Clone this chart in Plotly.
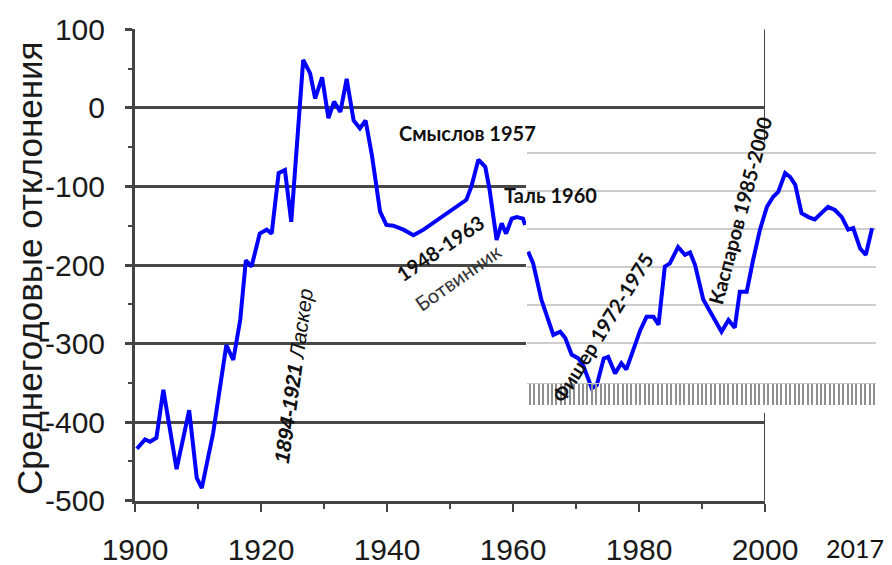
import plotly.graph_objects as go

# ---------------- data ----------------
left_years = [1900.3, 1901.6, 1902.4, 1903.4, 1904.5, 1906.6, 1908.6, 1909.8, 1910.6, 1912.4,
              1914.5, 1915.6, 1916.7, 1917.6, 1918.5, 1919.8, 1920.9, 1921.7, 1922.8, 1923.8,
              1924.8, 1926.7, 1927.8, 1928.6, 1929.7, 1930.7, 1931.6, 1932.6, 1933.6, 1934.7,
              1935.7, 1936.6, 1937.6, 1938.9, 1939.9, 1941.0, 1942.6, 1944.2, 1945.8, 1947.9,
              1950.5, 1952.6, 1953.4, 1954.5, 1955.6, 1956.3, 1957.4, 1958.2, 1958.9, 1959.8,
              1960.6, 1961.6, 1961.9]
left_values = [-434, -422, -425, -420, -359, -460, -385, -471, -484, -414,
               -302, -321, -270, -194, -202, -160, -155, -160, -83, -79,
               -145, 61, 44, 12, 39, -13, 8, -5, 37, -16,
               -26, -16, -60, -132, -149, -150, -155, -162, -155, -143,
               -128, -117, -100, -66, -75, -105, -168, -147, -160, -141,
               -139, -141, -149]

right_years = [1962.4, 1963.2, 1964.5, 1966.4, 1967.5, 1968.3, 1969.3, 1970.4, 1971.2, 1972.5,
               1973.3, 1974.4, 1975.1, 1976.2, 1977.2, 1978.0, 1980.2, 1981.2, 1982.3, 1983.1,
               1984.1, 1984.9, 1986.2, 1987.3, 1988.1, 1988.9, 1990.2, 1991.8, 1993.1, 1994.2,
               1995.2, 1996.0, 1997.1, 1998.1, 1999.2, 2000.3, 2001.3, 2002.1, 2003.2, 2004.0,
               2004.8, 2005.8, 2006.9, 2007.9, 2009.0, 2010.0, 2011.1, 2012.2, 2013.2, 2014.0,
               2015.1, 2016.0, 2017.0]
right_values = [-183, -198, -244, -289, -285, -293, -314, -319, -329, -357,
                -353, -319, -317, -338, -325, -333, -283, -266, -266, -276,
                -202, -198, -177, -187, -184, -200, -244, -266, -285, -270,
                -280, -234, -234, -194, -155, -126, -113, -107, -83, -88,
                -98, -134, -139, -142, -134, -126, -130, -139, -155, -153,
                -179, -187, -153]

y_tick_values = [100, 0, -100, -200, -300, -400, -500]
y_tick_text = ["100", "0", "-100", "-200", "-300", "-400", "-500"]
x_tick_values = [1900, 1920, 1940, 1960, 1980, 2000]
full_grid_values = [100, 0, -400]
short_grid_values = [-100, -200, -300]
right_grid_values = [-58, -106.2, -154.5, -202.7, -251, -299.2]

y_title = "Среднегодовые отклонения"

# ---------------- layout helpers ----------------
W, H = 892, 565
L, R, T, B = 135, 12, 29, 64
PW, PH = W - L - R, H - T - B
PX_PER_YEAR = 6.3


def px_x(p):
    return (p - L) / PW


def px_y(p):
    return (H - B - p) / PH


def year_at(p):
    return 1900 + (p - L) / PX_PER_YEAR


YR = [-500.5, 100.5]
GRID_DARK = "#474747"
FONT = "Liberation Sans, Arial, sans-serif"
ANN_FONT = "Lato, Open Sans, sans-serif"
HIDDEN = dict(showticklabels=False, ticks="", showline=False, zeroline=False,
              automargin=False)

fig = go.Figure()
fig.add_trace(go.Scatter(x=[], y=[], xaxis="x", yaxis="y", hoverinfo="skip"))
fig.add_trace(go.Scatter(x=[], y=[], xaxis="x", yaxis="y4", hoverinfo="skip"))
fig.add_trace(go.Scatter(x=right_years, y=right_values, mode="lines",
                         line=dict(color="#0000ff", width=4), xaxis="x2", yaxis="y2",
                         hoverinfo="skip"))
fig.add_trace(go.Scatter(x=left_years, y=left_values, mode="lines",
                         line=dict(color="#0000ff", width=4), xaxis="x3", yaxis="y3",
                         hoverinfo="skip", cliponaxis=False))

fig.update_layout(
    width=W, height=H,
    margin=dict(l=L, r=R, t=T, b=B, pad=0, autoexpand=False),
    paper_bgcolor="white", plot_bgcolor="rgba(0,0,0,0)",
    showlegend=False,
    font=dict(family=FONT, color="#1a1a1a"),
    xaxis=dict(domain=[0, px_x(765)], range=[1900, 2000], anchor="y",
               tickvals=x_tick_values, ticks="outside", ticklen=8, tickwidth=2,
               tickcolor="#444", minor=dict(dtick=10, tick0=1900, ticks="outside",
                                            ticklen=5, tickwidth=2, tickcolor="#444"),
               showline=True, linecolor="#444", linewidth=3, showgrid=False,
               zeroline=False, automargin=False,
               tickfont=dict(size=30, family=FONT, color="#1a1a1a"),
               ticklabelstandoff=12),
    yaxis=dict(domain=[0, 1], range=YR, anchor="x", tickvals=y_tick_values,
               ticktext=y_tick_text,
               ticks="outside", ticklen=7, tickwidth=3, tickcolor="#444",
               minor=dict(dtick=50, tick0=0, ticks="outside", ticklen=4, tickwidth=2,
                          tickcolor="#444"),
               showline=True, linecolor="#444", linewidth=3, showgrid=False,
               zeroline=False, automargin=False,
               tickfont=dict(size=30, family=FONT, color="#1a1a1a"),
               ticklabelstandoff=14),
    yaxis4=dict(overlaying="y", anchor="x", range=YR, tickvals=full_grid_values,
                showgrid=True, gridcolor=GRID_DARK, gridwidth=3, **HIDDEN),
    xaxis2=dict(domain=[px_x(527), px_x(876)], range=[year_at(527), year_at(876)],
                anchor="free", position=px_y(383), showline=True, linecolor="#c4c4c4",
                linewidth=1, ticks="outside", ticklen=21, tickwidth=1.5,
                tickcolor="#8f8f8f", tick0=1962, dtick=0.7, showticklabels=False,
                showgrid=False, zeroline=False, automargin=False),
    yaxis2=dict(domain=[0, 1], range=YR, anchor="x2", tickvals=right_grid_values,
                showgrid=True, gridcolor="#cdcdcd", gridwidth=2, **HIDDEN),
    xaxis3=dict(domain=[0, px_x(526)], range=[1900, year_at(526)], anchor="y3",
                showgrid=False, **HIDDEN),
    yaxis3=dict(domain=[0, 1], range=YR, anchor="x3", tickvals=short_grid_values,
                showgrid=True, gridcolor=GRID_DARK, gridwidth=3, **HIDDEN),
)

# right frame edge of the left chart (partly hidden behind the inset)
for y0, y1 in [(100, -43), (-388, -500)]:
    fig.add_shape(type="line", xref="x", yref="y", x0=2000, x1=2000, y0=y0, y1=y1,
                  line=dict(color="#444", width=2))


def note(text, cx, cy, size, angle=0, family=ANN_FONT, color="#111"):
    fig.add_annotation(text=text, xref="paper", yref="paper", x=px_x(cx), y=px_y(cy),
                       xanchor="center", yanchor="middle", showarrow=False,
                       textangle=angle, font=dict(size=size, family=family, color=color))


note(y_title, 29, 268, 35, angle=-90, family=FONT, color="#1a1a1a")
note("<b>Смыслов 1957</b>", 467, 133, 20)
note("<b>Таль 1960</b>", 550, 195, 20)
note("<b>1948-1963</b>", 440, 248, 20, angle=-34)
note("Ботвинник", 458, 277, 20, angle=-35, color="#333")
note("<b><i>1894-1921</i></b><i> Ласкер</i>", 294, 376, 21, angle=-82, family=FONT)
note("<b>Фишер 1972-1975</b>", 602, 328, 20, angle=-58)
note("<b>Каспаров 1985-2000</b>", 740, 210, 20, angle=-75)
note("2017", 855, 548, 25, family=ANN_FONT, color="#111")

fig.write_html("out.html", config={"displayModeBar": False},
               post_script="document.body.style.margin='0px';document.body.style.padding='0px';")
